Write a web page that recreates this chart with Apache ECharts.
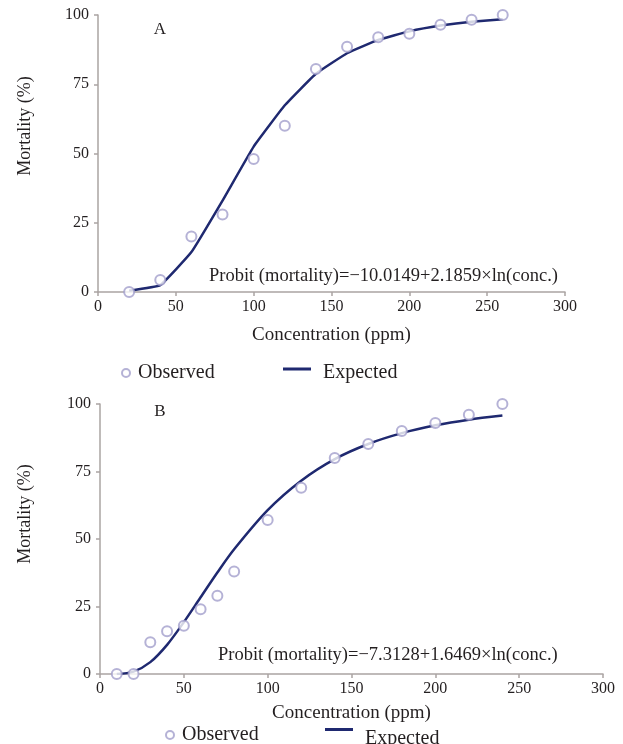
<!DOCTYPE html>
<html>
<head>
<meta charset="utf-8">
<script src="https://cdn.jsdelivr.net/npm/echarts@6/dist/echarts.min.js"></script>
<style>
  html, body { margin: 0; padding: 0; background: #fff; }
  #main { width: 623px; height: 744px; }
</style>
</head>
<body>
<div id="main"></div>
<script>
// panel A data
let concA = [20, 40, 60, 80, 100, 120, 140, 160, 180, 200, 220, 240, 260]
let observedA = [0, 4.3, 20, 28, 48, 60, 80.5, 88.5, 92, 93.2, 96.5, 98.3, 100]
let expectedA = [0.5, 2.5, 14.4, 33, 52.5, 67.4, 78.8, 86.2, 91, 94.1, 96.2, 97.6, 98.5]

// panel B data
let concBObs = [10, 20, 30, 40, 50, 60, 70, 80, 100, 120, 140, 160, 180, 200, 220, 240]
let observedB = [0, 0, 11.8, 15.8, 17.9, 24, 29, 38, 57, 69, 80, 85.2, 90, 93, 96, 100]
let concBExp = [10, 20, 30, 40, 50, 60, 70, 80, 100, 120, 140, 160, 180, 200, 220, 240]
let expectedB = [0, 0.9, 4.4, 10.8, 19.2, 28.4, 37.6, 46.2, 60.7, 71.6, 79.6, 85.2, 89.2, 92.1, 94.2, 95.7]

let eqA = 'Probit (mortality)=\u221210.0149+2.1859\u00d7ln(conc.)'
let eqB = 'Probit (mortality)=\u22127.3128+1.6469\u00d7ln(conc.)'

let FONT = '"Liberation Serif", "DejaVu Serif", serif'
let TEXT = '#231f20'
let AXIS = '#aaa4a2'
let LINE = '#1f2970'
let DOT = '#a29fcc'

function pairs(xs, ys) {
  return xs.map((x, i) => [x, ys[i]])
}

function xAxisOf(idx, gap) {
  return {
    type: 'value', gridIndex: idx, min: 0, max: 300, interval: 50,
    splitLine: { show: false },
    axisLine: { lineStyle: { color: AXIS, width: 1.5 } },
    axisTick: { lineStyle: { color: AXIS, width: 1.5 }, length: 4 },
    axisLabel: { color: TEXT, fontFamily: FONT, fontSize: 16, margin: 7 },
    name: 'Concentration (ppm)', nameLocation: 'middle', nameGap: gap,
    nameTextStyle: { color: TEXT, fontFamily: FONT, fontSize: 19 }
  }
}

function yAxisOf(idx) {
  return {
    type: 'value', gridIndex: idx, min: 0, max: 100, interval: 25,
    splitLine: { show: false },
    axisLine: { show: true, lineStyle: { color: AXIS, width: 1.5 } },
    axisTick: { show: true, lineStyle: { color: AXIS, width: 1.5 }, length: 4 },
    axisLabel: { color: TEXT, fontFamily: FONT, fontSize: 16, margin: 9 }
  }
}

function obsLegend(left, top) {
  return {
    left: left, top: top, itemWidth: 8, itemHeight: 8, itemGap: 0,
    data: [{ name: 'Observed', icon: 'emptyCircle' }],
    textStyle: { color: TEXT, fontFamily: FONT, fontSize: 20, padding: [0, 0, 0, 3] }
  }
}

// the legend line sits a little above the text in the reference,
// so the icon path carries an empty tail below the bar
function expLegend(left, top, drop) {
  return {
    left: left, top: top, itemWidth: 28, itemHeight: drop,
    data: [{
      name: 'Expected',
      icon: 'path://M0,0L28,0L28,3L0,3Z M0,' + drop + 'L0.001,' + drop,
      itemStyle: { color: LINE, borderWidth: 0 }
    }],
    textStyle: { color: TEXT, fontFamily: FONT, fontSize: 20, padding: [0, 0, 0, 7] }
  }
}

let chart = echarts.init(document.getElementById('main'))

let option = {
  animation: false,
  backgroundColor: '#fff',
  grid: [
    { left: 98, top: 15, width: 467, height: 277 },
    { left: 100, top: 404, width: 503, height: 270 }
  ],
  xAxis: [xAxisOf(0, 34), xAxisOf(1, 30)],
  yAxis: [yAxisOf(0), yAxisOf(1)],
  legend: [
    obsLegend(116, 358),
    expLegend(278, 358, 11),
    obsLegend(160, 720),
    expLegend(320, 723, 21)
  ],
  graphic: [
    { type: 'text', x: 160, y: 30, style: { text: 'A', font: '17px ' + FONT, fill: TEXT, align: 'center', verticalAlign: 'middle' } },
    { type: 'text', x: 160, y: 412, style: { text: 'B', font: '17px ' + FONT, fill: TEXT, align: 'center', verticalAlign: 'middle' } },
    { type: 'text', x: 209, y: 276, style: { text: eqA, font: '18.5px ' + FONT, fill: TEXT, verticalAlign: 'middle' } },
    { type: 'text', x: 218, y: 655, style: { text: eqB, font: '18.5px ' + FONT, fill: TEXT, verticalAlign: 'middle' } },
    {
      type: 'text', x: 25, y: 126, rotation: Math.PI / 2,
      style: { text: 'Mortality (%)', font: '18px ' + FONT, fill: TEXT, align: 'center', verticalAlign: 'middle' }
    },
    {
      type: 'text', x: 25, y: 514, rotation: Math.PI / 2,
      style: { text: 'Mortality (%)', font: '18px ' + FONT, fill: TEXT, align: 'center', verticalAlign: 'middle' }
    }
  ],
  series: [
    {
      name: 'Expected', type: 'line', xAxisIndex: 0, yAxisIndex: 0,
      data: pairs(concA, expectedA), symbol: 'none', smooth: 0.1,
      lineStyle: { color: LINE, width: 2.5 }, itemStyle: { color: LINE }, z: 2
    },
    {
      name: 'Observed', type: 'scatter', xAxisIndex: 0, yAxisIndex: 0,
      data: pairs(concA, observedA), symbol: 'emptyCircle', symbolSize: 10,
      itemStyle: { color: DOT, borderColor: DOT, borderWidth: 1.5 }, z: 3
    },
    {
      name: 'Expected', type: 'line', xAxisIndex: 1, yAxisIndex: 1,
      data: pairs(concBExp, expectedB), symbol: 'none', smooth: 0.3,
      lineStyle: { color: LINE, width: 2.5 }, itemStyle: { color: LINE }, z: 2
    },
    {
      name: 'Observed', type: 'scatter', xAxisIndex: 1, yAxisIndex: 1,
      data: pairs(concBObs, observedB), symbol: 'emptyCircle', symbolSize: 10,
      itemStyle: { color: DOT, borderColor: DOT, borderWidth: 1.5 }, z: 3
    }
  ]
}

chart.setOption(option)
</script>
</body>
</html>
